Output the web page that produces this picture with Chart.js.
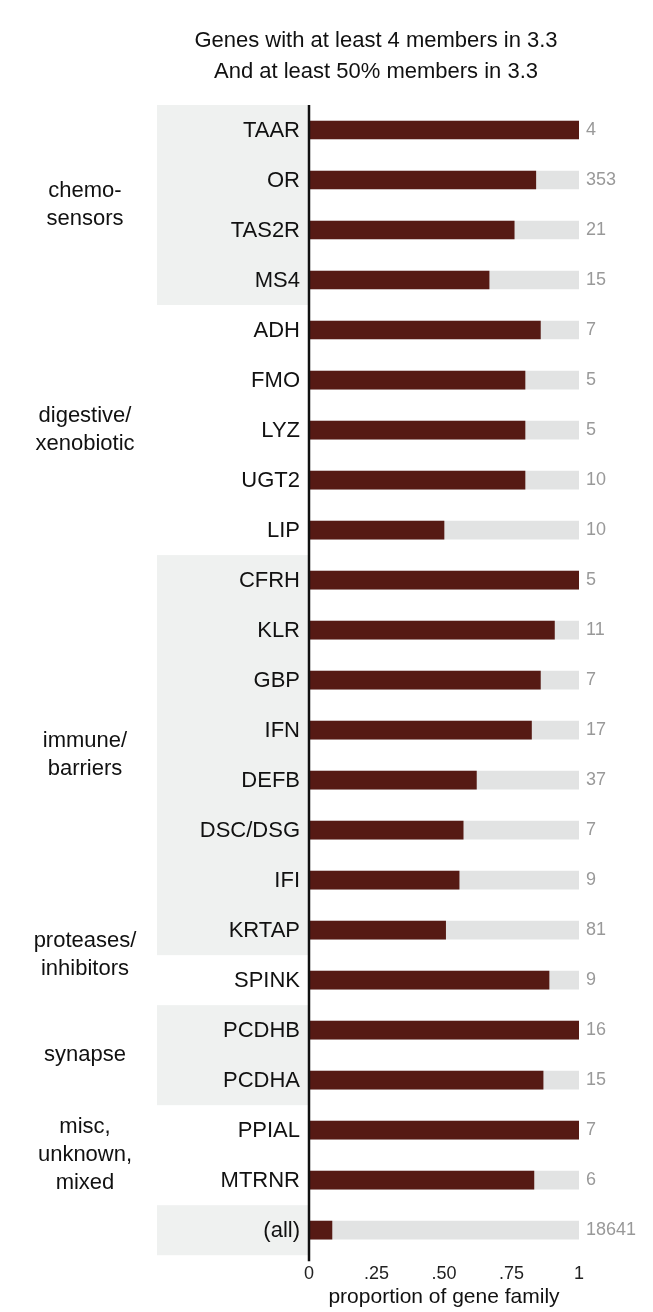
<!DOCTYPE html>
<html><head><meta charset="utf-8">
<script src="https://cdn.jsdelivr.net/npm/chart.js@4"></script>
<style>html,body{margin:0;padding:0;background:#fff}#w{width:653px;height:1312px;position:relative}</style>
</head><body><div id="w"><canvas id="c"></canvas></div>
<script>
const categories=["TAAR","OR","TAS2R","MS4","ADH","FMO","LYZ","UGT2","LIP","CFRH","KLR","GBP","IFN","DEFB","DSC/DSG","IFI","KRTAP","SPINK","PCDHB","PCDHA","PPIAL","MTRNR","(all)"];
const proportions=[1.0,0.84,0.76,0.667,0.857,0.8,0.8,0.8,0.5,1.0,0.909,0.857,0.824,0.62,0.571,0.556,0.506,0.889,1.0,0.867,1.0,0.833,0.085];
const familySizes=[4,353,21,15,7,5,5,10,10,5,11,7,17,37,7,9,81,9,16,15,7,6,18641];
const fullScale=categories.map(()=>1);
const tickLabels={0:"0",0.25:".25",0.5:".50",0.75:".75",1:"1"};
const groups=[
 {lines:["chemo-","sensors"],from:0,to:3,shade:true},
 {lines:["digestive/","xenobiotic"],from:4,to:8,shade:false},
 {lines:["immune/","barriers"],from:9,to:16,shade:true},
 {lines:["proteases/","inhibitors"],from:17,to:17,shade:false,offset:-0.5},
 {lines:["synapse"],from:18,to:19,shade:true},
 {lines:["misc,","unknown,","mixed"],from:20,to:21,shade:false},
 {lines:[],from:22,to:22,shade:true}
];
const F="'Liberation Sans', Arial, sans-serif";
const deco={id:"deco",
 beforeDatasetsDraw(ch){
  const c=ch.ctx,y=ch.scales.y,a=ch.chartArea;
  const step=y.getPixelForValue(1)-y.getPixelForValue(0);
  c.save();
  groups.forEach(g=>{
   if(g.shade){c.fillStyle="#eff1f0";
    const t=y.getPixelForValue(g.from)-step/2,b=y.getPixelForValue(g.to)+step/2;
    c.fillRect(157,t,a.left-157,b-t);}
  });
  c.restore();
 },
 afterDatasetsDraw(ch){
  const c=ch.ctx,y=ch.scales.y,a=ch.chartArea;
  c.save();
  c.font="22px "+F;c.fillStyle="#111";c.textAlign="right";c.textBaseline="middle";
  categories.forEach((k,i)=>c.fillText(k,a.left-9,y.getPixelForValue(i)+1));
  c.font="18px "+F;c.fillStyle="#999";c.textAlign="left";
  familySizes.forEach((n,i)=>c.fillText(String(n),a.right+7,y.getPixelForValue(i)));
  c.font="22px "+F;c.fillStyle="#111";c.textAlign="center";
  groups.forEach(g=>{
   const mid=(y.getPixelForValue(g.from)+y.getPixelForValue(g.to))/2+(g.offset||0)*(y.getPixelForValue(1)-y.getPixelForValue(0));
   const lh=28,n=g.lines.length;
   g.lines.forEach((l,j)=>c.fillText(l,85,mid+(j-(n-1)/2)*lh));
  });
  c.strokeStyle="#111";c.lineWidth=2.5;c.beginPath();c.moveTo(a.left,a.top);c.lineTo(a.left,a.bottom+6);c.stroke();
  c.font="22px "+F;c.fillStyle="#111";c.textAlign="center";
  c.fillText("Genes with at least 4 members in 3.3",376,41);
  c.fillText("And at least 50% members in 3.3",376,72);
  c.restore();
 }};
new Chart(document.getElementById("c"),{
 type:"bar",
 data:{labels:categories,datasets:[
  {data:proportions,backgroundColor:"#561a14",barThickness:18,grouped:false,order:1},
  {data:fullScale,backgroundColor:"#e2e3e3",barThickness:18,grouped:false,order:2}
 ]},
 options:{indexAxis:"y",responsive:true,maintainAspectRatio:false,animation:false,
  layout:{padding:{left:309,right:74,top:105,bottom:2}},
  plugins:{legend:{display:false},tooltip:{enabled:false}},
  scales:{
   y:{display:false},
   x:{min:0,max:1,grid:{display:false},border:{display:false},
      afterBuildTicks(s){s.ticks=Object.keys(tickLabels).map(v=>({value:+v}));},
      ticks:{callback:v=>tickLabels[v],color:"#222",font:{size:18,family:F},padding:0,maxRotation:0},
      title:{display:true,text:"proportion of gene family",color:"#111",font:{size:21,family:F},padding:{top:0,bottom:0}}}
  }}
 ,plugins:[deco]});
</script></body></html>
